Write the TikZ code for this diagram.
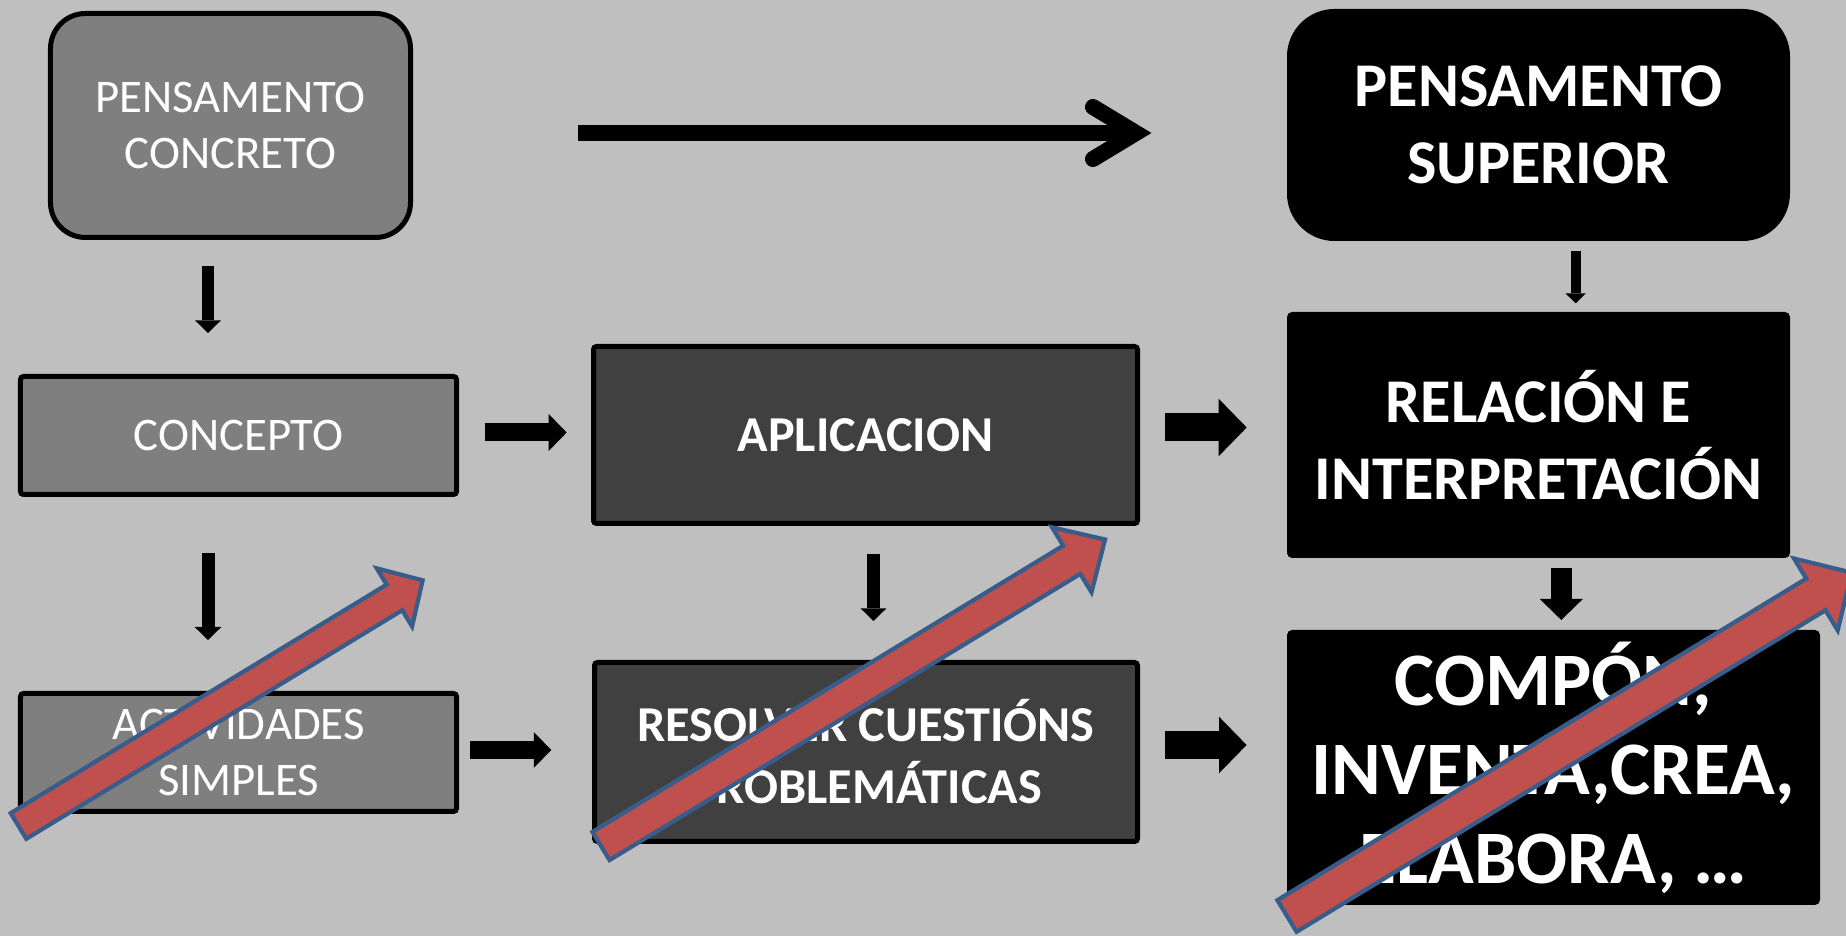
\documentclass[tikz,border=0pt]{standalone}
\usepackage{fontspec}
\setmainfont{Carlito}
\usepackage{tikz}
\usetikzlibrary{arrows.meta,calc}
\definecolor{slide}{HTML}{BFBFBF}
\definecolor{boxgray}{HTML}{7F7F7F}
\definecolor{boxdark}{HTML}{404040}
\definecolor{risefill}{HTML}{C0504D}
\definecolor{riseedge}{HTML}{385D8A}
\tikzset{
	box/.style={draw=black, line width=0.05cm, text=white, align=center, inner sep=0pt, rounded corners=0.03cm},
	lightbox/.style={box, fill=boxgray, font=\fontsize{13.3}{16.2}\selectfont},
	darkbox/.style={box, fill=boxdark, font=\bfseries\fontsize{14.3}{17.6}\selectfont},
	blackbox/.style={box, fill=black, font=\bfseries\fontsize{17.7}{21.9}\selectfont},
	blk/.style={draw=black, line width=#1, -{Triangle[length=#1, width'=0pt 2.05, line width=0pt]}},
	rise/.style={fill=risefill, draw=riseedge, line width=0.042cm, line join=miter},
}
\newcommand{\risearrow}[5]{%
	\begin{scope}[shift={#1}, rotate=31.3]
		\draw[rise] (0,-#3/2) -- (#2-#5,-#3/2) -- (#2-#5,-#4/2) -- (#2,0)
			-- (#2-#5,#4/2) -- (#2-#5,#3/2) -- (0,#3/2) -- cycle;
	\end{scope}}

\begin{document}
\begin{tikzpicture}
			\useasboundingbox (0,0) rectangle (18.46,-9.36);
			\fill[slide] (0,0) rectangle (18.46,-9.36);
			
			\node[lightbox, rounded corners=0.35cm, minimum width=3.60cm, minimum height=2.24cm] (concreto) at (2.305,-1.255) {PENSAMENTO\\CONCRETO};
			\node[blackbox, rounded corners=0.45cm, minimum width=4.98cm, minimum height=2.27cm] (superior) at (15.385,-1.25) {PENSAMENTO\\SUPERIOR};
			
			\node[lightbox, minimum width=4.36cm, minimum height=1.18cm] (concepto) at (2.385,-4.355) {CONCEPTO};
			\node[darkbox, minimum width=5.44cm, minimum height=1.77cm] (aplicacion) at (8.655,-4.35) {APLICACION};
			\node[blackbox, minimum width=4.98cm, minimum height=2.41cm] (relacion) at (15.385,-4.35) {RELACIÓN E\\INTERPRETACIÓN};
			
			\node[lightbox, minimum width=4.36cm, minimum height=1.18cm] (actividades) at (2.385,-7.525) {ACTIVIDADES\\SIMPLES};
			\node[darkbox, minimum width=5.43cm, minimum height=1.79cm] (resolver) at (8.66,-7.52) {RESOLVER CUESTIÓNS\\PROBLEMÁTICAS};
			\node[blackbox, font=\bfseries\fontsize{21.5}{25.3}\selectfont, minimum width=5.28cm, minimum height=2.70cm] (compon) at (15.535,-7.675) {COMPÓN,\\INVENTA,CREA,\\ELABORA, …};
			
			\coordinate (topa) at (5.78,-1.33);
			\coordinate (topb) at (11.36,-1.33);
			\draw[line width=0.16cm] (topa) -- (topb);
			\draw[line width=0.16cm, line cap=round, line join=miter] ($(topb)+(-0.43,0.26)$) -- (topb) -- ($(topb)+(-0.43,-0.26)$);
			
			\coordinate (d1a) at (2.08,-2.66);
			\coordinate (d1b) at (2.08,-3.33);
			\coordinate (d2a) at (2.08,-5.53);
			\coordinate (d2b) at (2.08,-6.40);
			\coordinate (d3a) at (8.735,-5.54);
			\coordinate (d3b) at (8.735,-6.21);
			\coordinate (d4a) at (15.757,-2.51);
			\coordinate (d4b) at (15.757,-3.033);
			\coordinate (d5a) at (15.613,-5.68);
			\coordinate (d5b) at (15.613,-6.20);
			\draw[blk=0.126cm] (d1a) -- (d1b);
			\draw[blk=0.13cm] (d2a) -- (d2b);
			\draw[blk=0.125cm] (d3a) -- (d3b);
			\draw[blk=0.10cm] (d4a) -- (d4b);
			\draw[blk=0.21cm] (d5a) -- (d5b);
			
			\coordinate (r1a) at (4.85,-4.325);
			\coordinate (r1b) at (5.667,-4.325);
			\coordinate (r2a) at (4.70,-7.50);
			\coordinate (r2b) at (5.513,-7.50);
			\coordinate (r3a) at (11.65,-4.275);
			\coordinate (r3b) at (12.467,-4.275);
			\coordinate (r4a) at (11.65,-7.45);
			\coordinate (r4b) at (12.466,-7.45);
			\draw[blk=0.18cm] (r1a) -- (r1b);
			\draw[blk=0.175cm] (r2a) -- (r2b);
			\draw[blk=0.28cm] (r3a) -- (r3b);
			\draw[blk=0.275cm] (r4a) -- (r4b);
			
			\coordinate (rise1) at (0.185,-8.26);
			\coordinate (rise2) at (6.01,-8.46);
			\coordinate (rise3) at (12.87,-9.16);
			\risearrow{(rise1)}{4.73}{0.30}{0.68}{0.33}
			\risearrow{(rise2)}{5.90}{0.33}{0.76}{0.39}
			\risearrow{(rise3)}{6.61}{0.37}{0.84}{0.42}
\end{tikzpicture}
\end{document}
